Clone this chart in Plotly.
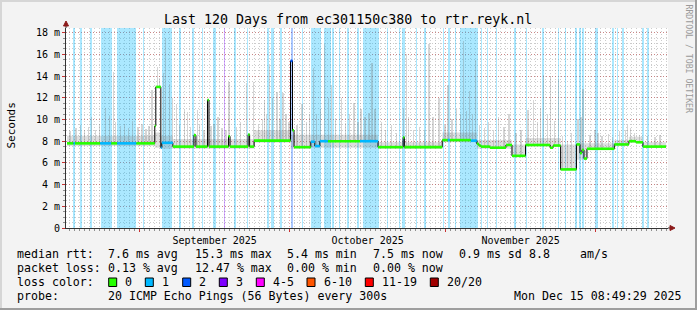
import pandas as pd
import plotly.graph_objects as go

# ---------------- data ----------------
END = pd.Timestamp("2025-12-15 08:49:29")
START = END - pd.Timedelta(days=120)

# median rtt steps (days since START, ms, lost pings)
med_day = [0.2, 1.5, 1.8, 6.8, 9.0, 10.2, 14.0, 17.7, 17.9, 18.9, 19.1, 21.3, 25.5, 25.9,
           28.2, 28.5, 32.4, 32.7, 36.3, 36.6, 37.5, 44.75, 45.15, 45.45, 48.8, 49.6, 50.6,
           52.2, 58.6, 62.2, 67.2, 67.45, 75.0, 76.1, 76.5, 80.7, 81.9, 82.3, 82.7, 84.5,
           87.7, 88.9, 91.6, 96.5, 97.1, 98.6, 101.75, 102.45, 102.85, 103.25, 103.85,
           109.3, 112.2, 113.6, 115.0]
med_ms = [7.8, 7.8, 7.8, 7.8, 7.8, 7.8, 7.8, 9.4, 13.0, 7.4, 7.85, 7.5, 8.55, 7.5,
          11.8, 7.5, 8.45, 7.5, 8.6, 7.5, 8.05, 15.4, 9.0, 7.45, 7.95, 7.55, 8.0,
          8.0, 8.0, 7.45, 8.35, 7.45, 8.1, 8.1, 8.1, 8.05, 7.75, 7.6, 7.5, 7.4,
          7.65, 6.65, 7.65, 7.4, 7.6, 5.4, 7.7, 6.9, 7.2, 6.4, 7.3,
          7.7, 8.0, 7.9, 7.5]
med_loss = [0, 1, 0, 1, 0, 1, 0, 0, 0, 1, 1, 0, 0, 0,
            0, 0, 0, 0, 0, 0, 0, 2, 0, 0, 1, 1, 1,
            0, 1, 0, 0, 0, 0, 1, 0, 1, 0, 0, 0, 0,
            0, 0, 0, 0, 0, 0, 0, 0, 0, 0, 0,
            0, 0, 0, 0]
MED_END_DAY = 119.6

# packet loss background bands (days since START)
band_start = [1.4, 2.8, 4.8, 6.9, 10.2, 15.25, 19.1, 22.5, 25.2, 27.1, 29.4, 31.4, 33.5, 36.0,
              40.15, 40.95, 42.75, 44.85, 46.95, 48.75, 51.4, 53.1, 54.4, 56.1, 58.1, 59.3,
              63.9, 66.3, 67.05, 69.75, 71.45, 75.05, 76.05, 77.45, 78.45, 82.7, 83.9, 85.7,
              89.4, 91.6, 94.8, 98.0, 99.45, 101.55, 102.25, 102.85, 105.45, 108.85, 109.75,
              110.8, 114.8, 115.9]
band_end = [1.8, 3.1, 5.1, 9.1, 14.0, 15.55, 21.1, 22.9, 25.6, 27.4, 29.8, 31.7, 33.8, 36.3,
            40.45, 41.45, 43.05, 45.25, 47.25, 50.85, 52.8, 53.4, 54.7, 56.4, 58.4, 62.4,
            64.2, 66.6, 67.55, 70.05, 71.75, 75.35, 76.45, 77.65, 82.1, 83.0, 84.2, 86.0,
            89.7, 91.9, 95.3, 98.3, 99.65, 101.95, 102.75, 103.25, 105.95, 109.25, 110.05,
            111.2, 115.2, 116.2]
band_loss = [1, 1, 1, 1, 1, 1, 1, 1, 1, 1, 1, 3, 1, 1,
             1, 1, 1, 2, 1, 1, 1, 1, 1, 1, 1, 1,
             1, 1, 1, 1, 1, 1, 1, 1, 1, 1, 1, 1,
             1, 1, 1, 1, 1, 1, 1, 1, 1, 1, 1,
             1, 1, 1]

# smoke envelope (days since START, low ms, high ms)
smoke_day = [0.2, 17.7, 18.9, 21.3, 37.5, 44.75, 48.8, 62.2, 75.0, 81.9, 88.9, 91.6, 98.6,
             101.75, 103.85, 109.3, 112.2, 115.0]
smoke_lo = [7.55, 7.4, 7.3, 7.3, 7.85, 7.3, 7.4, 7.3, 7.9, 7.3, 6.55, 7.5, 5.3,
            6.3, 7.2, 7.55, 7.85, 7.4]
smoke_hi = [8.5, 8.8, 8.5, 8.2, 9.0, 8.6, 8.6, 7.9, 8.8, 8.1, 7.7, 8.3, 7.7,
            7.8, 7.8, 8.1, 8.4, 7.9]

# smoke spikes (days since START, max ms)
spike_day = [0.8, 2.0, 2.8, 3.6, 4.4, 5.0, 5.8, 6.6, 7.8, 8.6, 9.4, 9.8, 10.8, 11.6, 12.4,
             13.2, 14.35, 15.15, 15.95, 16.55, 17.15, 18.15, 18.55, 19.35, 19.85, 20.55,
             21.15, 22.1, 22.7, 23.7, 24.3, 24.9, 26.3, 26.7, 27.5, 28.9, 29.5, 30.3, 31.1,
             31.9, 32.5, 33.9, 34.7, 35.9, 37.3, 38.3, 39.1, 39.5, 40.05, 40.65, 41.25,
             42.05, 42.65, 43.25, 43.85, 44.45, 46.05, 47.05, 47.85, 48.45, 49.25, 49.85,
             50.65, 51.6, 52.25, 53.0, 53.8, 55.0, 55.8, 56.6, 57.4, 58.2, 58.8, 59.6, 60.4,
             61.0, 61.6, 62.8, 63.6, 64.8, 65.8, 67.35, 67.85, 68.35, 69.35, 70.55, 71.55,
             72.35, 73.15, 74.35, 75.55, 76.15, 76.95, 77.75, 78.55, 79.15, 79.75, 80.35,
             81.1, 81.7, 82.5, 83.5, 84.3, 85.3, 86.3, 87.3, 88.3, 89.7, 90.7, 92.1, 93.1,
             93.9, 94.5, 95.1, 95.9, 96.5, 97.3, 98.1, 99.05, 100.05, 100.85, 102.05, 102.65,
             103.05, 104.45, 105.45, 106.05, 106.85, 108.05, 108.85, 110.4, 111.6, 112.0,
             112.6, 113.4, 114.4, 116.0, 117.4, 118.4]
spike_top = [8.9, 9.2, 9.5, 9.0, 9.3, 10.2, 9.0, 9.6, 11.1, 10.3, 14.4, 9.8, 9.4, 9.6, 9.2,
             9.9, 9.3, 9.6, 9.1, 9.4, 12.7, 14.8, 13.8, 14.3, 17.5, 13.3,
             12.0, 11.4, 9.5, 10.9, 10.7, 9.3, 10.9, 9.5, 9.0, 9.4, 9.6, 10.2, 9.2,
             9.0, 13.5, 9.3, 9.8, 13.4, 13.5, 9.5, 10.0, 11.8, 10.5, 15.0, 12.0,
             12.5, 10.0, 12.4, 10.5, 9.8, 9.5, 11.4, 9.8, 10.5, 14.7, 10.5,
             11.0, 17.0, 12.0, 13.2, 10.0, 12.0, 9.7, 10.5, 11.5, 9.8, 11.0, 10.2, 10.6,
             15.2, 11.0, 9.8, 9.0, 9.5, 8.8, 11.1, 16.0, 10.2, 9.0, 9.3, 9.0,
             17.0, 10.2, 12.0, 9.5, 13.2, 10.0, 11.0, 10.5, 17.2, 10.8, 12.6,
             10.5, 15.5, 9.5, 9.2, 9.8, 9.0, 10.2, 9.3, 10.5, 8.8, 9.0, 10.9, 11.8,
             9.8, 11.1, 14.1, 10.5, 14.0, 9.9, 13.7, 8.5, 8.0, 8.8, 10.0, 10.2,
             12.8, 8.6, 9.0, 8.8, 8.5, 8.7, 8.4, 8.9, 9.0, 9.5,
             9.2, 8.8, 8.6, 8.5, 8.4, 8.6]

LOSS_COLORS = ["#26ff00", "#00b8ff", "#0059ff", "#7e00ff", "#ff00ff", "#ff5500", "#ff0000", "#a10000"]
LOSS_LABELS = ["0", "1", "2", "3", "4-5", "6-10", "11-19", "20/20"]

TITLE = "Last 120 Days from ec301150c380 to rtr.reyk.nl"
Y_TICKS = [0, 2, 4, 6, 8, 10, 12, 14, 16, 18]
Y_TICKTEXT = ["0"] + [f"{v} m" for v in Y_TICKS[1:]]
Y_TOP = 18.43

rtt_items = ["median rtt:", "7.6 ms avg", "15.3 ms max", "5.4 ms min", "7.5 ms now", "0.9 ms sd", "8.8", "am/s"]
loss_items = ["packet loss:", "0.13 % avg", "12.47 % max", "0.00 % min", "0.00 % now"]
probe_items = ["probe:", "20 ICMP Echo Pings (56 Bytes) every 300s", "Mon Dec 15 08:49:29 2025"]

# ---------------- helpers ----------------
W, H = 697, 310
L, R, T, B = 66, 29, 28, 82
PW, PH = W - L - R, H - T - B
MONO = "DejaVu Sans Mono"
DAY_MS = 86400000.0
PX_DAY = PW / 120.0


def tt(d):
    return START + pd.to_timedelta(d, unit="D")


def px(x):
    return (x - L) / PW


def py(y):
    return 1 - (y - T) / PH


def rgba(hexc, a):
    h = hexc.lstrip("#")
    return f"rgba({int(h[0:2],16)},{int(h[2:4],16)},{int(h[4:6],16)},{a})"


def med_at(d):
    v = med_ms[0]
    for dd, mv in zip(med_day, med_ms):
        if dd <= d:
            v = mv
    return v


fig = go.Figure()

# loss background bands
fig.add_trace(go.Bar(
    x=[tt((s + e) / 2) for s, e in zip(band_start, band_end)],
    y=[Y_TOP] * len(band_start),
    base=0,
    width=[(e - s) * DAY_MS for s, e in zip(band_start, band_end)],
    marker=dict(color=[rgba(LOSS_COLORS[c], 0.33) for c in band_loss], line_width=0),
    showlegend=False, hoverinfo="skip"))

# smoke envelope
sx = [tt(d) for d in smoke_day] + [tt(MED_END_DAY)]
fig.add_trace(go.Scatter(x=sx, y=smoke_lo + [smoke_lo[-1]], mode="lines", line=dict(width=0, shape="hv"),
                         showlegend=False, hoverinfo="skip"))
fig.add_trace(go.Scatter(x=sx, y=smoke_hi + [smoke_hi[-1]], mode="lines", line=dict(width=0, shape="hv"),
                         fill="tonexty", fillcolor="rgba(120,120,120,0.24)", showlegend=False, hoverinfo="skip"))

# smoke spikes
bases = [med_at(d) for d in spike_day]
fig.add_trace(go.Bar(
    x=[tt(d) for d in spike_day],
    y=[t - b for t, b in zip(spike_top, bases)],
    base=bases,
    width=DAY_MS / PX_DAY * 1.1,
    marker=dict(color="rgba(120,120,120,0.30)", line_width=0),
    showlegend=False, hoverinfo="skip"))

# median black line
mx = [tt(d) for d in med_day] + [tt(MED_END_DAY)]
fig.add_trace(go.Scatter(x=mx, y=med_ms + [med_ms[-1]], mode="lines",
                         line=dict(color="#000000", width=1, shape="hv"), showlegend=False, hoverinfo="skip"))

# median coloured by loss
ends = med_day[1:] + [MED_END_DAY]
for cls in sorted(set(med_loss)):
    xs, ys = [], []
    for d0, d1, v, c in zip(med_day, ends, med_ms, med_loss):
        if c == cls:
            xs += [tt(d0), tt(d1), None]
            ys += [v, v, None]
    fig.add_trace(go.Scatter(x=xs, y=ys, mode="lines", line=dict(color=LOSS_COLORS[cls], width=2.6),
                             showlegend=False, hoverinfo="skip"))

# ---------------- annotations ----------------
ann = []
ann.append(dict(text=TITLE, x=px(348), y=py(19.3), xanchor="center", yanchor="middle",
                font=dict(size=13.3, family=MONO, color="#000")))
ann.append(dict(text="Seconds", x=px(10.5), y=py(126), textangle=-90, xanchor="center", yanchor="middle",
                font=dict(size=11, family=MONO, color="#000")))
ann.append(dict(text="RRDTOOL / TOBI OETIKER", x=px(688.5), y=py(59), textangle=90, xanchor="center",
                yanchor="middle", font=dict(size=8.2, family=MONO, color="#9a9a9a")))

rtt_x = [16, 107.3, 194, 286, 372.3, 458.3, 528.3, 579.3]
loss_x = [16, 107.3, 194, 286, 372.3]
probe_x = [16, 107.3, 512.7]
for items, xs, yy in [(rtt_items, rtt_x, 254.3), (loss_items, loss_x, 268.3), (probe_items, probe_x, 296.2)]:
    for s, x in zip(items, xs):
        ann.append(dict(text=s, x=px(x - 1), y=py(yy), xanchor="left", yanchor="middle",
                        font=dict(size=11.6, family=MONO, color="#000")))
ann.append(dict(text="loss color:", x=px(15), y=py(282.3), xanchor="left", yanchor="middle",
                font=dict(size=11.6, family=MONO, color="#000")))

box_x = [108.7, 145.3, 182.7, 219.3, 256.3, 307, 365.3, 430.3]
shapes = []
for bx, col, lab in zip(box_x, LOSS_COLORS, LOSS_LABELS):
    shapes.append(dict(type="rect", xref="paper", yref="paper", x0=px(bx), x1=px(bx + 8),
                       y0=py(286.5), y1=py(278), fillcolor=col, line=dict(color="#000", width=1)))
    ann.append(dict(text=lab, x=px(bx + 14.5), y=py(282.3), xanchor="left", yanchor="middle",
                    font=dict(size=11.6, family=MONO, color="#000")))

for a in ann:
    a.update(xref="paper", yref="paper", showarrow=False)

# frame (3D border)
def pline(x0, y0, x1, y1, col, w):
    return dict(type="line", xref="paper", yref="paper", x0=px(x0), y0=py(y0), x1=px(x1), y1=py(y1),
                line=dict(color=col, width=w))

shapes += [pline(0, 1, W, 1, "#d6d6d6", 2), pline(1, 0, 1, H, "#d6d6d6", 2),
           pline(0, H - 1, W, H - 1, "#9e9e9e", 2), pline(W - 1, 0, W - 1, H, "#9e9e9e", 2)]

# axis arrows
ARROW = "#8b1a1a"
yb = T + PH
shapes.append(pline(L, T, L, 24, "#333333", 1))
shapes.append(dict(type="path", xref="paper", yref="paper", fillcolor=ARROW, line=dict(color=ARROW, width=1),
                   path=f"M {px(L-2.5)},{py(26)} L {px(L+2.5)},{py(26)} L {px(L)},{py(21)} Z"))
shapes.append(pline(L + PW, yb, L + PW + 3, yb, "#333333", 1))
shapes.append(dict(type="path", xref="paper", yref="paper", fillcolor=ARROW, line=dict(color=ARROW, width=1),
                   path=f"M {px(L+PW+2)},{py(yb-2.5)} L {px(L+PW+2)},{py(yb+2.5)} L {px(L+PW+7)},{py(yb)} Z"))

MGRID = "rgba(200,50,50,0.45)"
GRID = "rgba(143,143,143,0.45)"

fig.update_layout(
    width=W, height=H,
    margin=dict(l=L, r=R, t=T, b=B, pad=0),
    paper_bgcolor="#f3f3f3", plot_bgcolor="#ffffff",
    barmode="overlay", bargap=0,
    font=dict(family=MONO, size=10, color="#000"),
    showlegend=False,
    annotations=ann, shapes=shapes,
    xaxis=dict(type="date", range=[START, END], dtick="M1", tick0="2025-08-01",
               tickformat="%B %Y", ticklabelmode="period",
               showgrid=True, gridcolor=MGRID, griddash="1px,2px", gridwidth=1,
               ticks="outside", ticklen=3, tickcolor="#c83232",
               minor=dict(dtick=DAY_MS, showgrid=True, gridcolor=GRID, griddash="1px,2px",
                          ticks="outside", ticklen=2, tickcolor="#8f8f8f"),
               showline=True, linecolor="#333333", linewidth=1, zeroline=False,
               tickfont=dict(size=10, family=MONO, color="#000"), fixedrange=True),
    yaxis=dict(range=[0, Y_TOP], tickvals=Y_TICKS, ticktext=Y_TICKTEXT,
               showgrid=True, gridcolor=MGRID, griddash="1px,2px", gridwidth=1,
               ticks="outside", ticklen=3, tickcolor="#c83232",
               minor=dict(dtick=0.5, showgrid=True, gridcolor=GRID, griddash="1px,2px",
                          ticks="outside", ticklen=2, tickcolor="#8f8f8f"),
               showline=True, linecolor="#333333", linewidth=1, zeroline=False,
               tickfont=dict(size=10, family=MONO, color="#000"), fixedrange=True),
)

fig.write_html("out.html")
